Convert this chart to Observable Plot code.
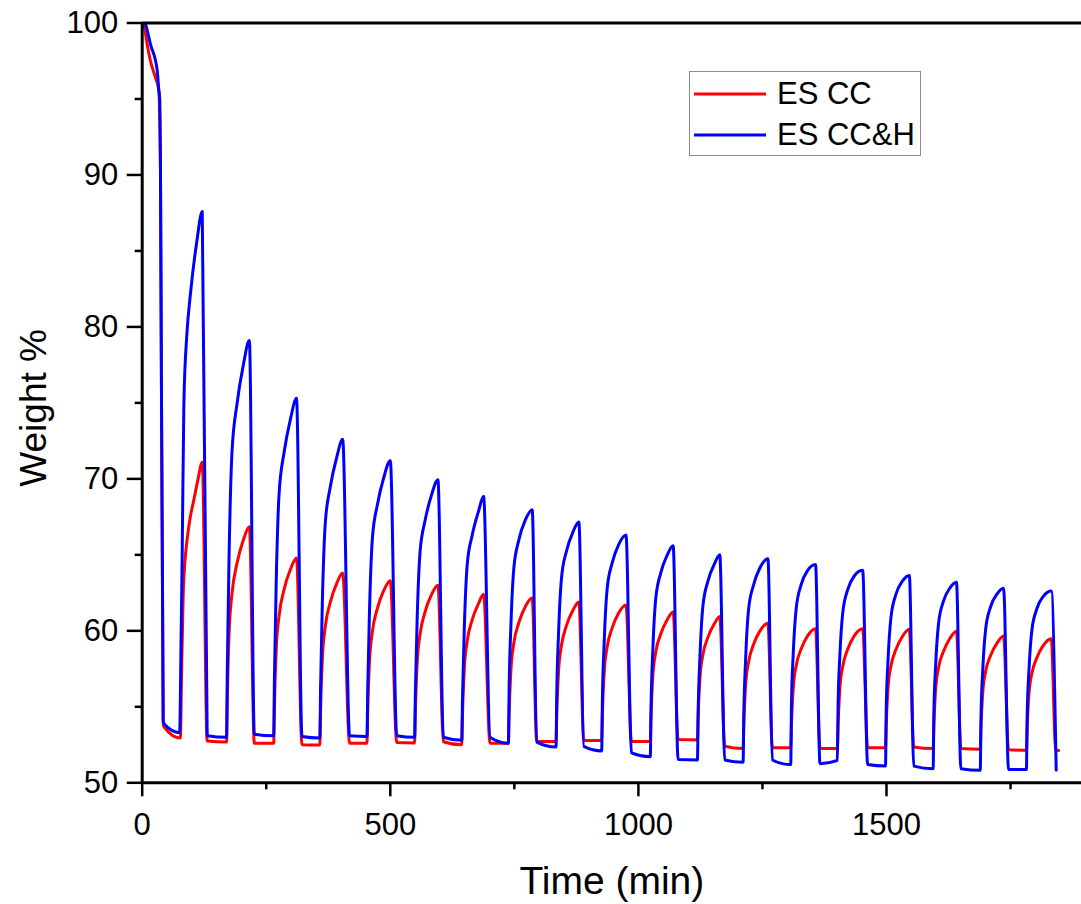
<!DOCTYPE html>
<html>
<head>
<meta charset="utf-8">
<script src="https://cdn.jsdelivr.net/npm/d3@7"></script>
<script src="https://cdn.jsdelivr.net/npm/@observablehq/plot@0.6"></script>
<style>
  body { margin: 0; background: #fff; font-family: "Liberation Sans", Arial, sans-serif; }
  #wrap { position: relative; width: 1081px; height: 904px; overflow: hidden; background: #fff; }
  #legend { position: absolute; left: 689px; top: 71px; width: 232px; height: 85px;
            border: 1.5px solid #8c8c8c; background: #fff; box-sizing: border-box; }
  .item { position: absolute; left: 0; height: 32px; display: flex; align-items: center; }
  .item svg { margin-left: 3px; }
  .item span { margin-left: 10px; font-size: 31px; color: #000; line-height: 32px; }
</style>
</head>
<body>
<div id="wrap"></div>
<script>
// ---------------- data ----------------
const seriesNames = ["ES CC", "ES CC&H"];
const seriesColors = ["#ff0000", "#0000ff"];

const xMajorTicks = [0, 500, 1000, 1500];
const xMinorTicks = [250, 750, 1250, 1750];
const yMajorTicks = [50, 60, 70, 80, 90, 100];
const yMinorTicks = [55, 65, 75, 85, 95];

// ES CC (red)
const esccTime = [
  0, 4, 10, 16.7, 26.8, 33.4, 36.8, 42.3, 43.5,
  77, 79, 82.5, 86, 90.5, 97, 104, 112, 121,
  131, 170, 171.5, 175, 181, 191, 204, 216,
  226, 265, 266.5, 270, 276, 286, 299, 311,
  322, 358, 359.5, 363, 369, 379, 392, 404,
  418, 453, 454.5, 458, 464, 474, 487, 500,
  513, 549, 550.5, 554, 560, 570, 583, 596,
  607, 644, 645.5, 649, 655, 665, 678, 688,
  701, 738, 739.5, 743, 749, 759, 772, 786,
  795, 834, 835.5, 839, 845, 855, 868, 880,
  890, 926, 927.5, 931, 937, 947, 960, 975,
  986, 1024, 1025.5, 1029, 1035, 1045, 1058, 1070,
  1080, 1119, 1120.5, 1124, 1130, 1140, 1153, 1164,
  1174, 1211, 1212.5, 1216, 1222, 1232, 1245, 1261,
  1270, 1307, 1308.5, 1312, 1318, 1328, 1341, 1357,
  1366, 1401, 1402.5, 1406, 1412, 1422, 1435, 1452,
  1462, 1498, 1499.5, 1503, 1509, 1519, 1532, 1546,
  1555, 1594, 1595.5, 1599, 1605, 1615, 1628, 1641,
  1650, 1689, 1690.5, 1694, 1700, 1710, 1723, 1736,
  1746, 1782, 1783.5, 1787, 1793, 1803, 1816, 1832,
  1841, 1847
];
const esccWeight = [
  100.3, 99.8, 98.6, 97.5, 96.4, 95.6, 90.4, 54.0, 53.7,
  52.95, 56.5, 62.3, 64.5, 66.0, 67.5, 68.6, 69.9, 71.1,
  52.75, 52.68, 55.51, 59.77, 62.46, 64.44, 66.0, 66.85,
  52.6, 52.6, 55.04, 58.7, 61.02, 62.73, 64.07, 64.8,
  52.5, 52.48, 54.74, 58.14, 60.29, 61.88, 63.12, 63.8,
  52.6, 52.6, 54.74, 57.95, 59.98, 61.48, 62.66, 63.3,
  52.65, 52.62, 54.7, 57.81, 59.78, 61.24, 62.38, 63.0,
  52.7, 52.5, 54.48, 57.45, 59.33, 60.72, 61.81, 62.4,
  52.6, 52.6, 54.51, 57.38, 59.2, 60.53, 61.59, 62.16,
  52.72, 52.72, 54.56, 57.31, 59.05, 60.34, 61.35, 61.9,
  52.78, 52.78, 54.56, 57.24, 58.93, 60.18, 61.16, 61.7,
  52.72, 52.72, 54.42, 56.98, 58.6, 59.79, 60.73, 61.24,
  52.85, 52.82, 54.45, 56.89, 58.43, 59.57, 60.46, 60.95,
  52.4, 52.25, 53.9, 56.38, 57.94, 59.1, 60.0, 60.5,
  52.3, 52.3, 53.87, 56.22, 57.71, 58.81, 59.67, 60.14,
  52.25, 52.25, 53.83, 56.2, 57.69, 58.8, 59.67, 60.14,
  52.3, 52.3, 53.86, 56.2, 57.68, 58.77, 59.63, 60.1,
  52.36, 52.25, 53.79, 56.11, 57.58, 58.66, 59.51, 59.97,
  52.25, 52.2, 53.69, 55.93, 57.35, 58.39, 59.21, 59.66,
  52.18, 52.14, 53.61, 55.81, 57.2, 58.23, 59.04, 59.48,
  52.14, 52.12
];

// ES CC&H (blue)
const escchTime = [
  0, 6, 16.7, 30.2, 33.4, 35.5, 36.8, 42.3, 43.5,
  75.5, 78, 80.5, 84, 90, 97, 110, 121,
  131, 170, 171.5, 175, 181, 191, 204, 216,
  226, 265, 266.5, 270, 276, 286, 299, 311,
  322, 358, 359.5, 363, 369, 379, 392, 404,
  418, 453, 454.5, 458, 464, 474, 487, 500,
  513, 549, 550.5, 554, 560, 570, 583, 596,
  607, 644, 645.5, 649, 655, 665, 678, 688,
  701, 738, 739.5, 743, 749, 759, 772, 786,
  795, 834, 835.5, 839, 845, 855, 868, 880,
  890, 926, 927.5, 931, 937, 947, 960, 975,
  986, 1024, 1025.5, 1029, 1035, 1045, 1058, 1070,
  1080, 1119, 1120.5, 1124, 1130, 1140, 1153, 1164,
  1174, 1211, 1212.5, 1216, 1222, 1232, 1245, 1261,
  1270, 1307, 1308.5, 1312, 1318, 1328, 1341, 1357,
  1366, 1401, 1402.5, 1406, 1412, 1422, 1435, 1452,
  1462, 1498, 1499.5, 1503, 1509, 1519, 1532, 1546,
  1555, 1594, 1595.5, 1599, 1605, 1615, 1628, 1641,
  1650, 1689, 1690.5, 1694, 1700, 1710, 1723, 1736,
  1746, 1782, 1783.5, 1787, 1793, 1803, 1816, 1832,
  1842
];
const escchWeight = [
  100.4, 100.0, 98.6, 96.9, 95.6, 94.9, 90.5, 54.2, 53.9,
  53.3, 58.5, 64.7, 75.0, 79.5, 82.1, 85.6, 87.6,
  53.1, 53.0, 57.44, 64.75, 71.79, 74.92, 77.53, 79.1,
  53.2, 53.1, 56.87, 63.09, 69.08, 71.75, 73.97, 75.3,
  53.05, 52.95, 56.29, 61.79, 67.1, 69.46, 71.42, 72.6,
  53.1, 53.05, 56.14, 61.22, 66.12, 68.3, 70.11, 71.2,
  53.1, 53.0, 55.88, 60.63, 65.2, 67.24, 68.93, 69.95,
  53.0, 52.8, 55.53, 60.02, 64.36, 66.28, 67.89, 68.85,
  53.0, 52.6, 56.29, 60.29, 64.13, 65.97, 67.28, 67.97,
  52.68, 52.36, 55.91, 59.76, 63.46, 65.24, 66.49, 67.16,
  52.4, 52.1, 55.51, 59.2, 62.75, 64.45, 65.66, 66.3,
  51.97, 51.72, 55.05, 58.66, 62.13, 63.8, 64.98, 65.6,
  51.53, 51.5, 54.74, 58.25, 61.63, 63.25, 64.39, 65.0,
  51.5, 51.35, 54.57, 58.05, 61.4, 63.01, 64.15, 64.75,
  51.5, 51.2, 55.15, 58.44, 61.46, 63.04, 63.97, 64.36,
  51.26, 51.48, 55.23, 58.36, 61.23, 62.73, 63.61, 63.98,
  51.2, 51.1, 54.87, 58.0, 60.89, 62.4, 63.27, 63.65,
  51.1, 50.93, 54.61, 57.68, 60.5, 61.97, 62.83, 63.2,
  50.93, 50.82, 54.41, 57.41, 60.16, 61.6, 62.44, 62.8,
  50.87, 50.87, 54.4, 57.33, 60.04, 61.45, 62.27, 62.62,
  50.82
];

// ---------------- build tables ----------------
const escc = esccTime.map((t, i) => ({t, w: esccWeight[i]}));
const escch = escchTime.map((t, i) => ({t, w: escchWeight[i]}));

const FONT = '"Liberation Sans", Arial, Helvetica, sans-serif';

const chart = Plot.plot({
  width: 1081,
  height: 904,
  marginLeft: 141.7,
  marginRight: 0,
  marginTop: 22.5,
  marginBottom: 121.7,
  style: {fontFamily: FONT, fontSize: "31px", color: "#000", background: "transparent", overflow: "visible"},
  x: {domain: [0, 1893]},
  y: {domain: [50, 100]},
  marks: [
    Plot.line(escc, {x: "t", y: "w", stroke: seriesColors[0], strokeWidth: 3, curve: "monotone-x", clip: true}),
    Plot.line(escch, {x: "t", y: "w", stroke: seriesColors[1], strokeWidth: 3, curve: "monotone-x", clip: true}),
    Plot.axisY(yMinorTicks, {tickSize: 7, text: null, strokeWidth: 2.5, label: null}),
    Plot.axisY(yMajorTicks, {tickSize: 15, tickPadding: 9, strokeWidth: 2.5, fontSize: 31, label: null}),
    Plot.axisX(xMinorTicks, {tickSize: 7, text: null, strokeWidth: 2.5, label: null}),
    Plot.axisX(xMajorTicks, {tickSize: 14, tickPadding: 16, strokeWidth: 2.5, fontSize: 31, label: null, tickFormat: d => String(d)}),
    Plot.ruleX([0], {strokeWidth: 3}),
    Plot.ruleY([50, 100], {strokeWidth: 3}),
    Plot.text(["Weight %"], {text: d => d, frameAnchor: "left", textAnchor: "middle", lineAnchor: "middle", dx: -108, dy: 5, rotate: -90, fontSize: 37}),
    Plot.text(["Time (min)"], {text: d => d, frameAnchor: "bottom", textAnchor: "middle", lineAnchor: "middle", dy: 99, fontSize: 39})
  ]
});

const wrap = document.getElementById("wrap");
wrap.appendChild(chart);

// legend (HTML overlay)
const legend = document.createElement("div");
legend.id = "legend";
seriesNames.forEach((name, i) => {
  const item = document.createElement("div");
  item.className = "item";
  item.style.top = (i === 0 ? 6 : 47) + "px";
  item.innerHTML = `<svg width="74" height="6"><line x1="1" y1="3" x2="73" y2="3" stroke="${seriesColors[i]}" stroke-width="3"/></svg><span>${name.replace("&", "&amp;")}</span>`;
  legend.appendChild(item);
});
wrap.appendChild(legend);
</script>
</body>
</html>
